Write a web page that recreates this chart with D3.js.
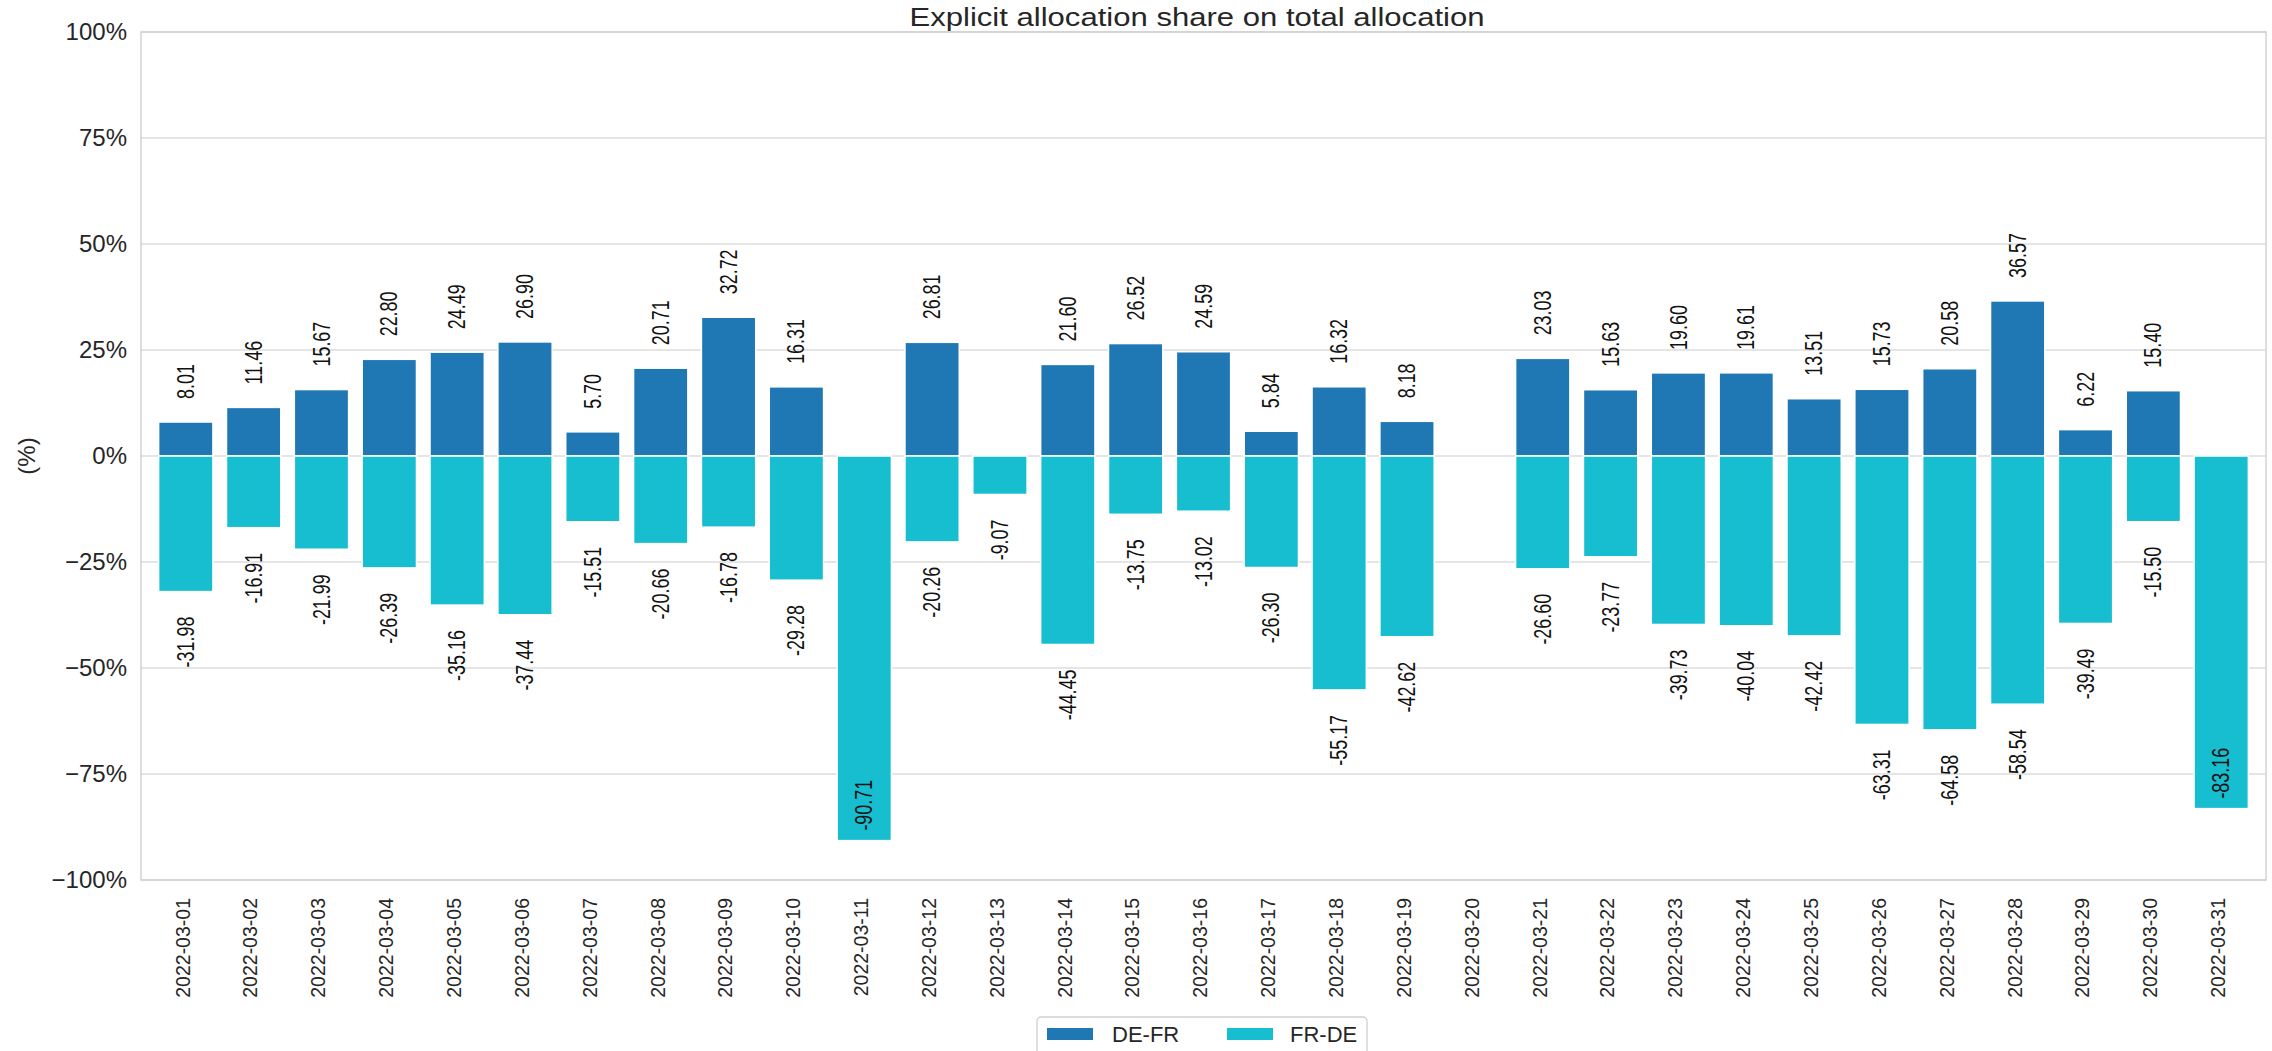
<!DOCTYPE html>
<html>
<head>
<meta charset="utf-8">
<script src="https://cdn.jsdelivr.net/npm/d3@7"></script>
<style>
  html, body { margin: 0; padding: 0; background: #fff; }
  svg { display: block; font-family: "Liberation Sans", Arial, Helvetica, sans-serif; }
</style>
</head>
<body>
<svg id="chart" width="2272" height="1051"></svg>
<script>
// ---- data ----
const dates = [
  "2022-03-01","2022-03-02","2022-03-03","2022-03-04","2022-03-05","2022-03-06","2022-03-07",
  "2022-03-08","2022-03-09","2022-03-10","2022-03-11","2022-03-12","2022-03-13","2022-03-14",
  "2022-03-15","2022-03-16","2022-03-17","2022-03-18","2022-03-19","2022-03-20","2022-03-21",
  "2022-03-22","2022-03-23","2022-03-24","2022-03-25","2022-03-26","2022-03-27","2022-03-28",
  "2022-03-29","2022-03-30","2022-03-31"
];
const deFr = [8.01, 11.46, 15.67, 22.80, 24.49, 26.90, 5.70, 20.71, 32.72, 16.31, 0, 26.81, 0, 21.60,
  26.52, 24.59, 5.84, 16.32, 8.18, 0, 23.03, 15.63, 19.60, 19.61, 13.51, 15.73, 20.58, 36.57,
  6.22, 15.40, 0];
const frDe = [-31.98, -16.91, -21.99, -26.39, -35.16, -37.44, -15.51, -20.66, -16.78, -29.28, -90.71,
  -20.26, -9.07, -44.45, -13.75, -13.02, -26.30, -55.17, -42.62, 0, -26.60, -23.77, -39.73, -40.04,
  -42.42, -63.31, -64.58, -58.54, -39.49, -15.50, -83.16];
const seriesNames = ["DE-FR", "FR-DE"];
const seriesColors = ["#1f77b4", "#17becf"];
const yTicks = [-100, -75, -50, -25, 0, 25, 50, 75, 100];
const titleText = "Explicit allocation share on total allocation";
const yLabel = "(%)";

// ---- layout ----
const W = 2272, H = 1051;
const plot = { left: 141, right: 2266, top: 32, bottom: 880 };
const textColor = "#262626";

const svg = d3.select("#chart");

const x = d3.scaleBand()
  .domain(dates)
  .range([plot.left, plot.right])
  .paddingInner(0.2)
  .paddingOuter(0.26);

const y = d3.scaleLinear().domain([-100, 100]).range([plot.bottom, plot.top]);

// gridlines
svg.append("g").selectAll("line").data(yTicks).join("line")
  .attr("x1", plot.left).attr("x2", plot.right)
  .attr("y1", d => y(d)).attr("y2", d => y(d))
  .attr("stroke", "#dcdcdc").attr("stroke-width", 1.3);

// y axis tick labels via d3 axis
const yAxis = d3.axisLeft(y).tickValues(yTicks)
  .tickFormat(d => (d < 0 ? "\u2212" + Math.abs(d) : d) + "%")
  .tickSize(0).tickPadding(14);
const gy = svg.append("g").attr("transform", `translate(${plot.left},0)`).call(yAxis);
gy.select(".domain").remove();
gy.selectAll("text").attr("font-size", 24).attr("fill", textColor)
  .attr("font-family", "Liberation Sans, Arial, sans-serif");

// bars
const series = [deFr, frDe];
series.forEach((vals, si) => {
  svg.append("g").selectAll("rect").data(dates).join("rect")
    .attr("x", d => x(d))
    .attr("width", x.bandwidth())
    .attr("y", (d, i) => Math.min(y(vals[i]), y(0)))
    .attr("height", (d, i) => Math.abs(y(vals[i]) - y(0)))
    .attr("fill", seriesColors[si])
    .attr("stroke", "#ffffff").attr("stroke-width", 1.5);
});

// bar value labels (rotated, condensed)
const labelG = svg.append("g");
const lblScale = 0.78, lblSize = 23;
series.forEach((vals, si) => {
  dates.forEach((d, i) => {
    const v = vals[i];
    if (v === 0) return;
    const cx = x(d) + x.bandwidth() / 2;
    const end = y(v);
    const t = labelG.append("text")
      .attr("font-size", lblSize)
      .attr("fill", "#111")
      .attr("dy", "0.35em")
      .text(v.toFixed(2));
    const len = t.node().getComputedTextLength() * lblScale;
    let py, anchor;
    if (v > 0) {
      py = end - 23; anchor = "start";
    } else {
      if (end + 25 + len > plot.bottom) {
        py = end - 10; anchor = "start";
      } else {
        py = end + 25; anchor = "end";
      }
    }
    t.attr("text-anchor", anchor)
      .attr("transform", `translate(${cx},${py}) rotate(-90) scale(${lblScale},1)`);
  });
});

// frame (spines)
svg.append("rect")
  .attr("x", plot.left).attr("y", plot.top)
  .attr("width", plot.right - plot.left).attr("height", plot.bottom - plot.top)
  .attr("fill", "none").attr("stroke", "#cccccc").attr("stroke-width", 1.3);

// x axis labels via d3 axis
const xAxis = d3.axisBottom(x).tickSize(0).tickPadding(0);
const gx = svg.append("g").attr("transform", `translate(0,${plot.bottom})`).call(xAxis);
gx.select(".domain").remove();
gx.selectAll("text")
  .attr("font-size", 19.5).attr("fill", textColor)
  .attr("font-family", "Liberation Sans, Arial, sans-serif")
  .attr("text-anchor", "end")
  .attr("y", 0).attr("dy", "0.35em")
  .attr("transform", "translate(-3,18) rotate(-90)");

// title
svg.append("text")
  .attr("x", 1197).attr("y", 26)
  .attr("text-anchor", "middle")
  .attr("font-size", 25)
  .attr("fill", textColor)
  .attr("textLength", 575).attr("lengthAdjust", "spacingAndGlyphs")
  .text(titleText);

// y label
svg.append("text")
  .attr("transform", `translate(35,${(plot.top + plot.bottom) / 2}) rotate(-90)`)
  .attr("text-anchor", "middle")
  .attr("font-size", 24)
  .attr("fill", textColor)
  .text(yLabel);

// legend
const leg = svg.append("g").attr("transform", "translate(1037,1017)");
leg.append("rect").attr("x", 0).attr("y", 0).attr("width", 330).attr("height", 46)
  .attr("rx", 4).attr("fill", "#fff").attr("stroke", "#d0d0d0").attr("stroke-width", 1.3);
const legItems = [
  { name: seriesNames[0], color: seriesColors[0], px: 10, tx: 75 },
  { name: seriesNames[1], color: seriesColors[1], px: 190, tx: 253 }
];
legItems.forEach(it => {
  leg.append("rect").attr("x", it.px).attr("y", 11).attr("width", 46).attr("height", 12)
    .attr("fill", it.color);
  leg.append("text").attr("x", it.tx).attr("y", 25).attr("font-size", 22)
    .attr("fill", textColor).text(it.name);
});
</script>
</body>
</html>
